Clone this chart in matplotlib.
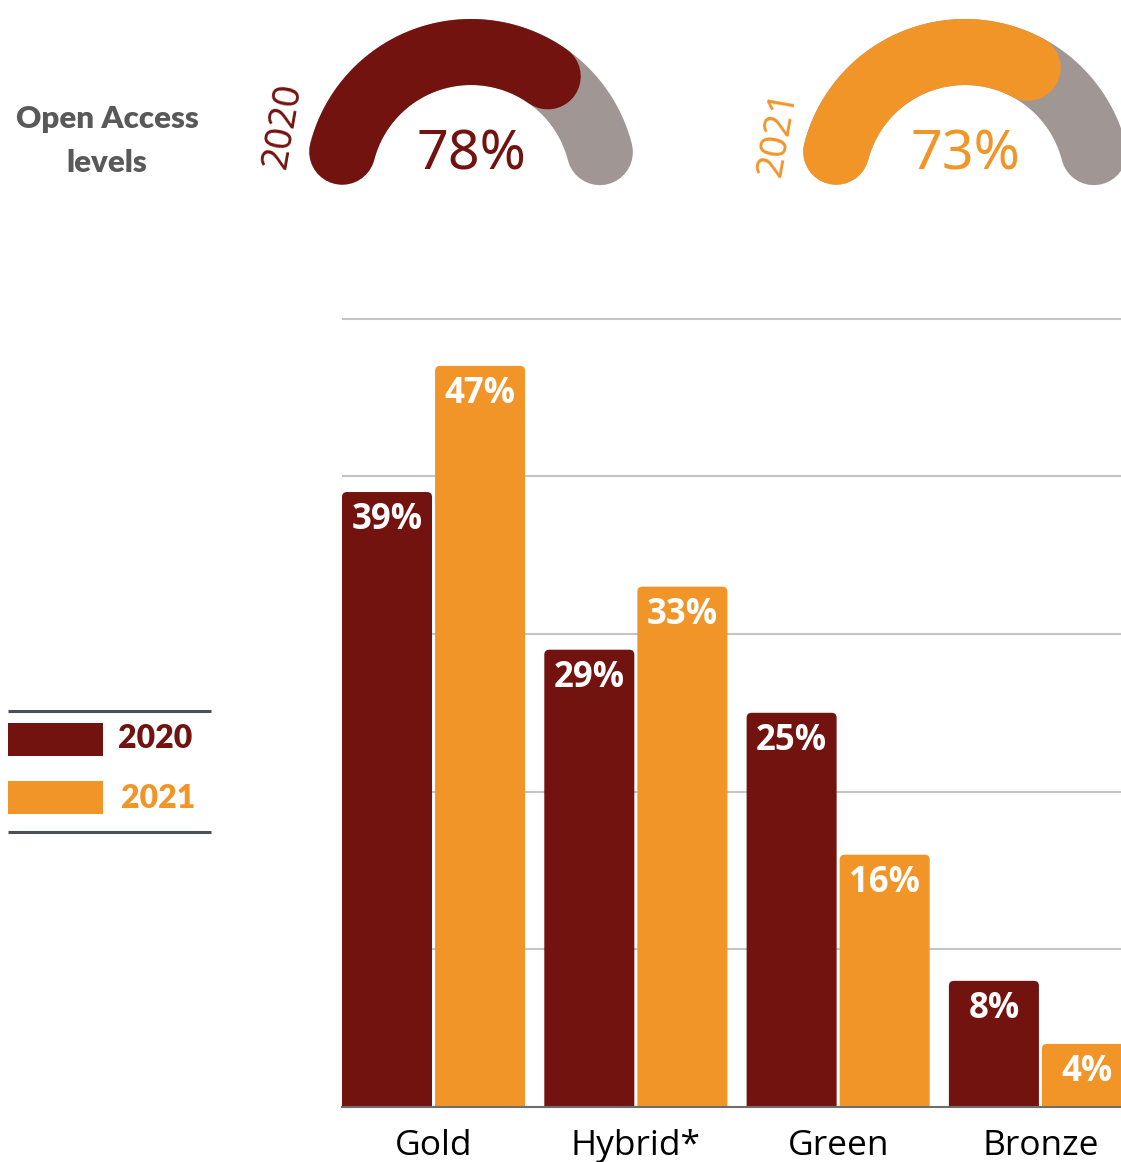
import matplotlib

matplotlib.use("Agg")
import matplotlib.pyplot as plt
import numpy as np
from matplotlib.patches import FancyBboxPatch, Rectangle

# data
CATEGORIES = ["Gold", "Hybrid*", "Green", "Bronze"]
SHARE_2020 = [39, 29, 25, 8]
SHARE_2021 = [47, 33, 16, 4]
YEARS = ["2020", "2021"]
OPEN_ACCESS_TOTAL = [78, 73]

RED = "#72130f"
ORANGE = "#f29528"
TRACK = "#a09795"
GRID = "#c4c4c4"
TITLE_GREY = "#595959"
LEGEND_LINE = "#4b4f57"
COLORS = [RED, ORANGE]

W, H = 1121, 1162
plt.rcParams["font.family"] = ["Noto Sans", "DejaVu Sans"]
NARROW = ["Liberation Sans Narrow", "Open Sans", "DejaVu Sans"]

fig = plt.figure(figsize=(W / 100, H / 100), dpi=100)

# ---- bar chart ----
BAR_W = 0.445
GAP = 0.015
GROUP_PX = 202.3
ax = fig.add_axes([342 / W, 55 / H, 779 / W, 790 / H])
left = -(BAR_W + GAP / 2)
right = left + 779 / GROUP_PX
ax.set_xlim(left, right)
ax.set_ylim(0, 50.1)
aspect = (50.1 / 790) / ((right - left) / 779)
radius = 5 / GROUP_PX

for i, pair in enumerate(zip(SHARE_2020, SHARE_2021)):
    for j, val in enumerate(pair):
        xc = i + (j - 0.5) * (BAR_W + GAP)
        bar = FancyBboxPatch(
            (xc - BAR_W / 2, -2), BAR_W, val + 2,
            boxstyle=f"round,pad=0,rounding_size={radius}",
            mutation_aspect=aspect, fc=COLORS[j], ec="none", zorder=2,
        )
        ax.add_patch(bar)
        ax.text(xc, val - 1.8, f"{val}%", ha="center", va="center",
                color="white", fontsize=25, fontweight="bold", zorder=3,
                family=["Open Sans", "DejaVu Sans"])

ax.set_yticks([10, 20, 30, 40, 50])
ax.yaxis.grid(True, color=GRID, lw=1.5)
ax.set_axisbelow(True)
ax.tick_params(axis="y", length=0, labelleft=False)
for side in ("left", "right", "top"):
    ax.spines[side].set_visible(False)
ax.spines["bottom"].set_color("#6e6e6e")
ax.spines["bottom"].set_linewidth(1.5)
ax.spines["bottom"].set_zorder(4)
ax.set_xticks(range(len(CATEGORIES)))
ax.set_xticklabels(CATEGORIES, fontsize=25.5, family=NARROW, color="black")
ax.tick_params(axis="x", length=0, pad=16)

# ---- overlay: title, gauges, legend (pixel coordinates) ----
ov = fig.add_axes([0, 0, 1, 1])
ov.set_xlim(0, W)
ov.set_ylim(H, 0)
ov.axis("off")

ov.text(107, 141, "Open Access\nlevels", ha="center", va="center",
        fontsize=22.5, fontweight="heavy", color=TITLE_GREY, family=["Lato"],
        linespacing=1.7)

GAUGE_START = 165.5
GAUGE_END = 14.3
GAUGE_SPAN = 142.0
R = 133
LW = 66 * 0.72
centers = [(471, 185), (965, 185)]
year_pos = [(283, 126), (778, 134)]


def arc(cx, cy, a0, a1):
    t = np.radians(np.linspace(a0, a1, 200))
    return cx + R * np.cos(t), cy - R * np.sin(t)


for k, pct in enumerate(OPEN_ACCESS_TOTAL):
    cx, cy = centers[k]
    x, y = arc(cx, cy, GAUGE_START, GAUGE_END)
    ov.plot(x, y, color=TRACK, lw=LW, solid_capstyle="round")
    x, y = arc(cx, cy, GAUGE_START, GAUGE_START - pct / 100 * GAUGE_SPAN)
    ov.plot(x, y, color=COLORS[k], lw=LW, solid_capstyle="round")
    ov.text(cx, 155, f"{pct}%", ha="center", va="center", fontsize=40,
            color=COLORS[k])
    ov.text(*year_pos[k], YEARS[k], ha="center", va="center", rotation=80,
            rotation_mode="anchor", fontsize=27, color=COLORS[k])

# legend
for yl in (711, 832):
    ov.plot([8, 211], [yl, yl], color=LEGEND_LINE, lw=2.2,
            solid_capstyle="butt")
for k, (y0, ty, tx) in enumerate([(723, 738, 155), (781, 798, 158)]):
    ov.add_patch(Rectangle((8, y0), 95, 33, fc=COLORS[k], ec="none"))
    ov.text(tx, ty, YEARS[k], ha="center", va="center", fontsize=23,
            fontweight="heavy", color=COLORS[k], family=["Lato"])

fig.savefig("out.png", dpi=100)
